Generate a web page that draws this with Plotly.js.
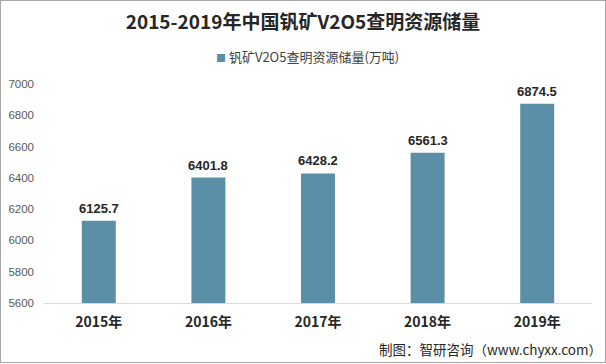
<!DOCTYPE html>
<html>
<head>
<meta charset="utf-8">
<script src="https://cdn.plot.ly/plotly-3.0.1.min.js"></script>
<style>
html,body{margin:0;padding:0;background:#fff;}
#wrap{position:relative;width:606px;height:364px;}
#chart{width:606px;height:364px;}
#frame{position:absolute;left:0;top:0;width:604px;height:361px;border:1px solid #a6a6a6;pointer-events:none;}
</style>
</head>
<body>
<div id="wrap"><div id="chart"></div><div id="frame"></div></div>
<script>
var categories = ["2015年", "2016年", "2017年", "2018年", "2019年"];
var values = [6125.7, 6401.8, 6428.2, 6561.3, 6874.5];
var labels = ["6125.7", "6401.8", "6428.2", "6561.3", "6874.5"];
var seriesName = "钒矿V2O5查明资源储量(万吨)";
var yTicks = [5600, 5800, 6000, 6200, 6400, 6600, 6800, 7000];
var barColor = "#5b8fa7";

var trace = {
  type: "bar",
  x: categories,
  y: values,
  name: seriesName,
  marker: {color: barColor},
  showlegend: false
};

var annotations = categories.map(function (c, i) {
  return {
    text: "<b>" + labels[i] + "</b>",
    x: c, y: values[i], xref: "x", yref: "y",
    xanchor: "center", yanchor: "bottom", yshift: 3,
    showarrow: false,
    font: {family: "Liberation Sans, Arial, sans-serif", size: 13, color: "#262626"}
  };
});

annotations.push({
  text: "<span style='color:" + barColor + ";font-size:10px'>■</span> " + seriesName,
  xref: "paper", yref: "paper",
  x: (214 - 44) / 548, xanchor: "left",
  y: 1 + (84 - 57) / 219, yanchor: "middle",
  showarrow: false,
  font: {family: "Noto Sans CJK SC, sans-serif", size: 13, color: "#404040"}
});

annotations.push({
  text: "制图：智研咨询（www.chyxx.com）",
  xref: "paper", yref: "paper",
  x: (604 - 44) / 548, xanchor: "right",
  y: -(349 - 303) / 219, yanchor: "middle",
  showarrow: false,
  font: {family: "Noto Sans CJK SC, sans-serif", size: 13.5, color: "#262626"}
});

var layout = {
  width: 606, height: 364,
  margin: {l: 44, r: 14, t: 84, b: 61},
  paper_bgcolor: "#ffffff",
  plot_bgcolor: "#ffffff",
  bargap: 0.69,
  title: {
    text: "<b>2015-2019年中国钒矿V2O5查明资源储量</b>",
    font: {family: "Noto Sans CJK SC, sans-serif", size: 19, color: "#262626"},
    x: 0.5, xanchor: "center", y: 1 - 22 / 364, yanchor: "middle"
  },
  showlegend: false,
  xaxis: {
    type: "category",
    showgrid: false,
    showline: true, linecolor: "#d9d9d9", linewidth: 1,
    ticks: "",
    ticklabelstandoff: 6,
    tickfont: {family: "Noto Sans CJK SC, sans-serif", size: 14, color: "#262626", weight: "bold"}
  },
  yaxis: {
    range: [5600, 7000],
    tickvals: yTicks,
    ticktext: yTicks.map(String),
    showgrid: false, zeroline: false, showline: false,
    ticks: "",
    ticklabelstandoff: 9,
    tickfont: {family: "Liberation Sans, Arial, sans-serif", size: 11.5, color: "#595959"}
  },
  annotations: annotations
};

Plotly.newPlot("chart", [trace], layout, {displayModeBar: false, staticPlot: true});
</script>
</body>
</html>
